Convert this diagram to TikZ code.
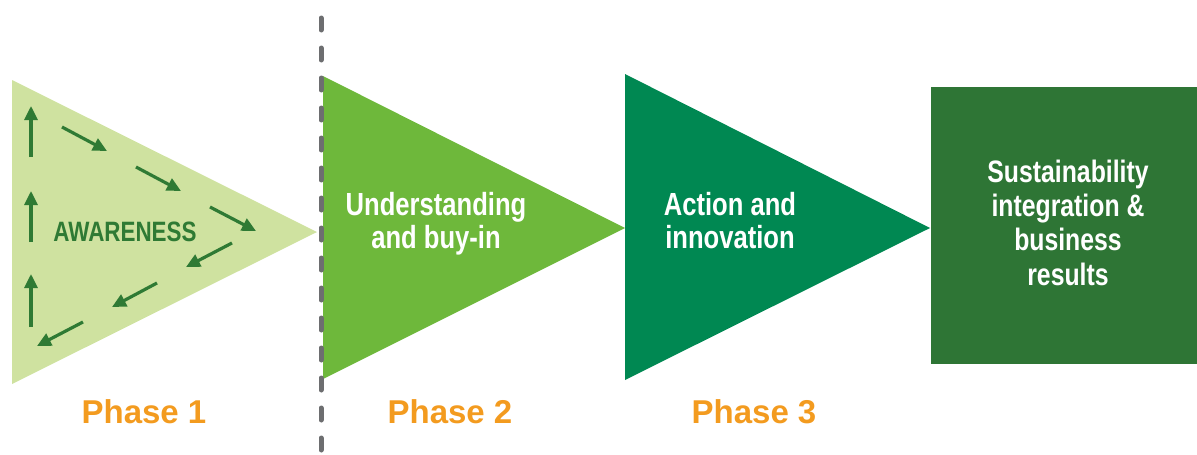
\documentclass[tikz,border=0pt]{standalone}
\usepackage{fontspec}
\setmainfont{Liberation Sans}
\newfontfamily\narrowfont[FakeStretch=0.8]{Liberation Sans}
\usetikzlibrary{arrows.meta}

\definecolor{lightleaf}{HTML}{CFE2A0}
\definecolor{midleaf}{HTML}{6EB83B}
\definecolor{deepleaf}{HTML}{008852}
\definecolor{boxgreen}{HTML}{2E7535}
\definecolor{arrowgreen}{HTML}{2F7A34}
\definecolor{phaseorange}{HTML}{F39B1F}
\definecolor{dashgray}{HTML}{6D6E70}

\tikzset{
  cycle arrow/.style={draw=arrowgreen, line width=3.2pt, -{Triangle[length=14pt,width=13pt]}},
  phase label/.style={text=phaseorange, anchor=base, font=\bfseries\fontsize{33}{33}\selectfont},
  stage text/.style={text=white, align=center, anchor=base, inner sep=0pt,
    font=\narrowfont\bfseries\fontsize{32}{33}\selectfont},
}

\begin{document}
\begin{tikzpicture}[x=1pt, y=-1pt]

    \useasboundingbox (0,0) rectangle (1197,455);

    % fase 1
    \fill[lightleaf] (12,80) -- (317,232) -- (12,384) -- cycle;

    % flechas del ciclo
    \draw[cycle arrow] (31,157) -- (31,106);
    \draw[cycle arrow] (31,242) -- (31,191);
    \draw[cycle arrow] (31,327) -- (31,274);
    \draw[cycle arrow] (62,127) -- (107,151);
    \draw[cycle arrow] (136,167) -- (181,191);
    \draw[cycle arrow] (210,207) -- (256,231);
    \draw[cycle arrow] (232,243) -- (186,267);
    \draw[cycle arrow] (157,283) -- (112,307);
    \draw[cycle arrow] (83,322) -- (37,346);

    % fase 2
    \fill[midleaf] (323,76) -- (625,228) -- (323,379) -- cycle;

    % fase 3
    \fill[deepleaf] (625,74) -- (930,228) -- (625,380) -- cycle;

    % resultado
    \fill[boxgreen] (931,87) rectangle (1197,364);

    % separador
    \draw[dashgray, line width=5pt, line cap=round, dash pattern=on 12pt off 18pt]
        (321,18) -- (321,460);

    %leyendas
    \node[stage text, text=arrowgreen, font=\narrowfont\bfseries\fontsize{28}{30}\selectfont]
        (aware) at (125,241) {AWARENESS};
    \node[stage text] (understand) at (436,248) {Understanding\\and buy-in};
    \node[stage text] (action) at (730,248) {Action and\\innovation};
    \node[stage text, font=\narrowfont\bfseries\fontsize{31}{34.3}\selectfont]
        (results) at (1068,285) {Sustainability\\integration \&\\business\\results};

    \node[phase label] (phase1) at (144,423) {Phase 1};
    \node[phase label] (phase2) at (450,423) {Phase 2};
    \node[phase label] (phase3) at (754,423) {Phase 3};

\end{tikzpicture}
\end{document}
